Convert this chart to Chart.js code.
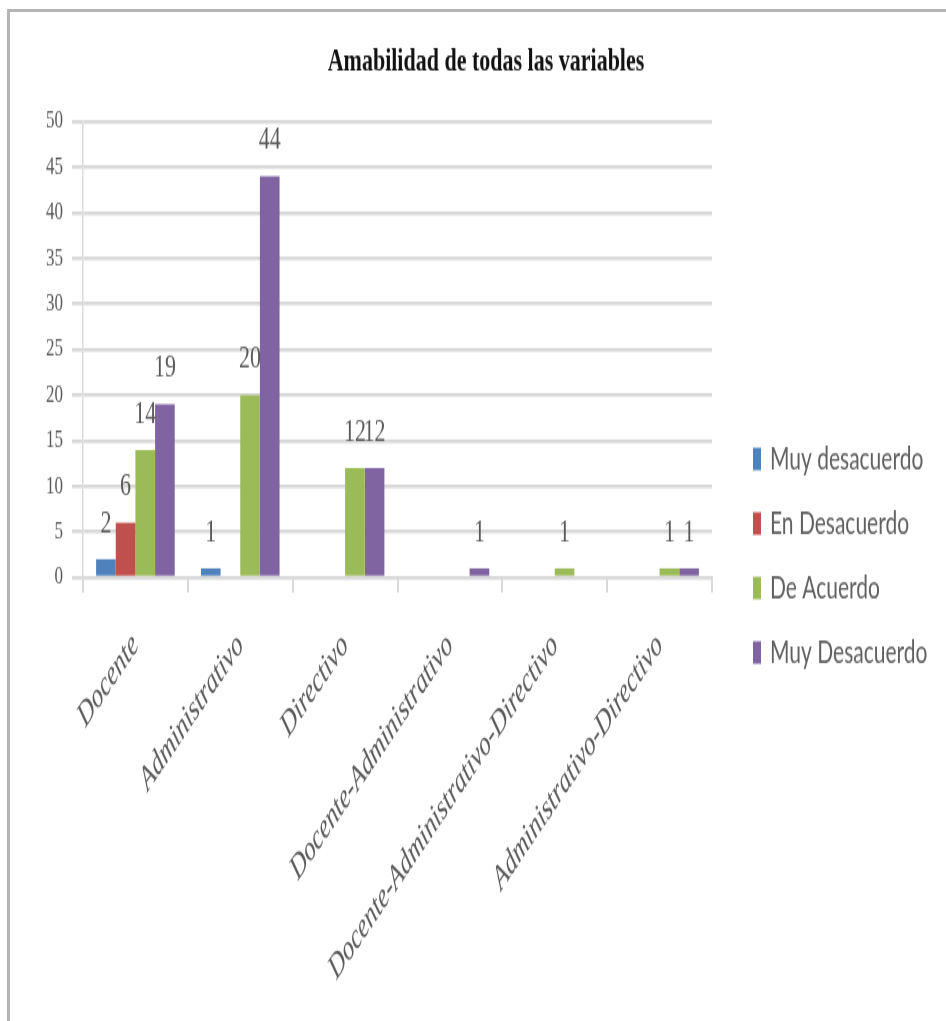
<!DOCTYPE html>
<html><head><meta charset="utf-8">
<script src="https://cdn.jsdelivr.net/npm/chart.js@4.4.1/dist/chart.umd.min.js"></script>
<style>
html,body{margin:0;padding:0;background:#fff;overflow:hidden;width:946px;height:1021px;}
#frame{position:absolute;left:7px;top:9px;width:2000px;height:2000px;border-left:3px solid #b4b4b4;border-top:3px solid #b4b4b4;}
#wrap{position:absolute;left:0;top:0;width:946px;height:681px;transform:scaleY(1.5);transform-origin:0 0;}
canvas{display:block;}
</style></head><body>
<div id="frame"></div>
<div id="wrap"><canvas id="c" width="946" height="681"></canvas></div>
<script>
const chartTitle = 'Amabilidad de todas las variables';
const categories = ['Docente','Administrativo','Directivo','Docente-Administrativo','Docente-Administrativo-Directivo','Administrativo-Directivo'];
const seriesNames = ['Muy desacuerdo','En Desacuerdo','De Acuerdo','Muy Desacuerdo'];
const seriesColors = ['#4F81BD','#C0504D','#9BBB59','#8064A2'];
const muyDesacuerdo = [2,1,0,0,0,0];
const enDesacuerdo = [6,0,0,0,0,0];
const deAcuerdo = [14,20,12,0,1,1];
const muyDeAcuerdoSerie = [19,44,12,1,0,1];
const yMin = 0, yMax = 50, yStep = 5;

const seriesValues = [muyDesacuerdo, enDesacuerdo, deAcuerdo, muyDeAcuerdoSerie];

const valueLabels = {
  id:'valueLabels',
  afterDatasetsDraw(chart){
    const ctx = chart.ctx;
    ctx.save();
    ctx.font = '22px "Liberation Serif", serif';
    ctx.fillStyle = '#595959';
    ctx.textAlign = 'center';
    ctx.textBaseline = 'middle';
    chart.data.datasets.forEach((ds,i)=>{
      const meta = chart.getDatasetMeta(i);
      meta.data.forEach((bar,j)=>{
        const v = ds.data[j];
        if(!v) return;
        ctx.fillText(String(v), bar.x, bar.y - 24);
      });
    });
    ctx.restore();
  }
};

const sideLegend = {
  id:'sideLegend',
  afterDraw(chart){
    const ctx = chart.ctx, area = chart.chartArea;
    const x0 = area.right + 41;
    let y = area.bottom - 79;
    ctx.save();
    ctx.font = '21px Lato, sans-serif';
    ctx.textBaseline = 'middle';
    ctx.textAlign = 'left';
    chart.data.datasets.forEach(ds=>{
      ctx.fillStyle = ds.backgroundColor;
      ctx.fillRect(x0, y - 7.5, 8, 15);
      ctx.fillStyle = '#606060';
      ctx.fillText(ds.label, x0 + 17, y);
      y += 43;
    });
    ctx.restore();
  }
};

new Chart(document.getElementById('c'), {
  type:'bar',
  data:{
    labels: categories,
    datasets: seriesNames.map((n,i)=>({
      label:n, data:seriesValues[i], backgroundColor:seriesColors[i], borderWidth:0,
      categoryPercentage:0.75, barPercentage:1.0
    }))
  },
  options:{
    responsive:false, animation:false, events:[],
    layout:{padding:{left:26,right:0,top:0,bottom:0}},
    plugins:{
      legend:{display:false},
      tooltip:{enabled:false},
      title:{display:true, text:chartTitle, color:'#111',
        font:{family:'"Liberation Serif", serif', size:22, weight:'bold', lineHeight:1.1},
        padding:{top:29,bottom:27.8}}
    },
    scales:{
      x:{
        grid:{display:true, drawOnChartArea:false, drawTicks:true, tickLength:10, color:'#d9d9d9', lineWidth:2, offset:true},
        border:{display:true, color:'#d9d9d9', width:2},
        ticks:{autoSkip:false, minRotation:45, maxRotation:45, padding:22, color:'#595959',
          font:{family:'"Liberation Serif", serif', size:23, style:'italic'}},
        afterFit(scale){ scale.height = 296; }
      },
      y:{
        min:yMin, max:yMax,
        grid:{color:'#d9d9d9', lineWidth:2.5, tickLength:11, drawTicks:true},
        border:{display:true, color:'#dcdcdc', width:1.5},
        ticks:{stepSize:yStep, padding:9, color:'#595959',
          font:{family:'"Liberation Serif", serif', size:17}},
        afterFit(scale){ scale.width = 57; }
      },
      spacer:{
        type:'linear', position:'right', display:true,
        grid:{display:false, drawTicks:false},
        border:{display:false},
        ticks:{display:false},
        afterFit(scale){ scale.width = 234; }
      }
    }
  },
  plugins:[valueLabels, sideLegend]
});
</script>
</body></html>
